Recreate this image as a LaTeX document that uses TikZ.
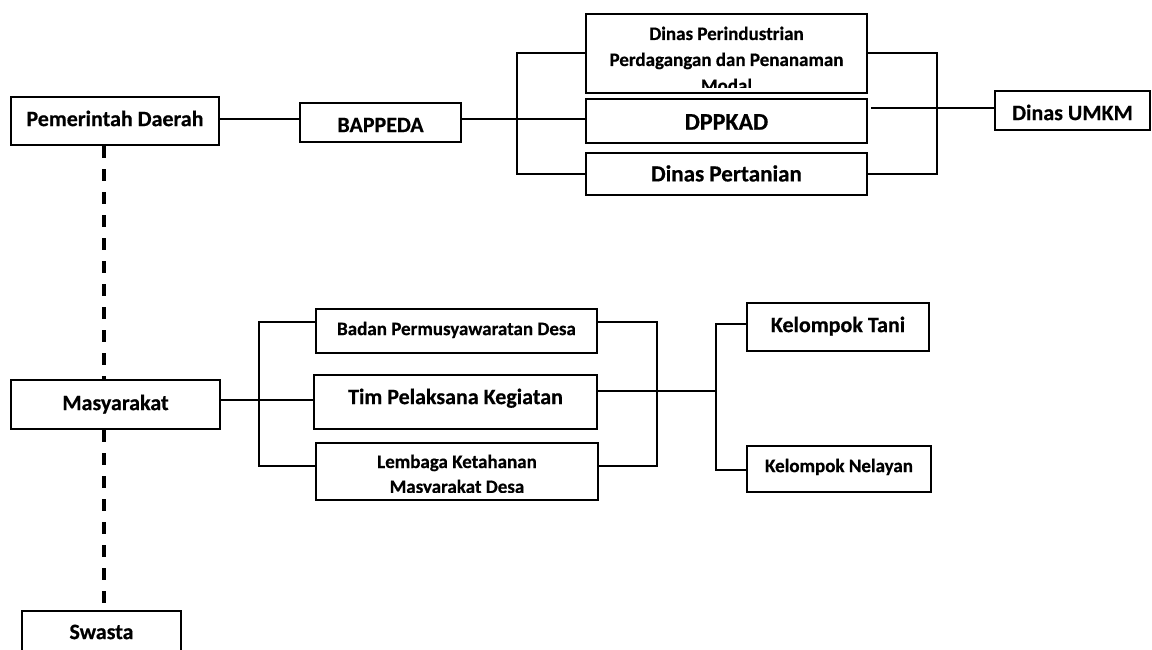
\documentclass[tikz,border=0pt]{standalone}
\usepackage{fontspec}
\setmainfont{Carlito}[BoldFeatures={FakeBold=0.5}]
\tikzset{
  box/.style={draw=black, line width=2.2pt, inner sep=0pt, fill=white},
  big/.style={font=\bfseries\fontsize{22}{26}\selectfont, text height=14.2pt, text depth=0pt},
  mid/.style={font=\bfseries\fontsize{23}{27}\selectfont, text height=14.8pt, text depth=0pt},
  small/.style={font=\bfseries\fontsize{19}{24}\selectfont, text height=12.2pt, text depth=0pt},
  linetext/.style={font=\bfseries\fontsize{19}{24}\selectfont, anchor=base, inner sep=0pt},
  link/.style={line width=2pt},
  dashlink/.style={line width=3.8pt, dash pattern=on 12pt off 11pt}
}
\begin{document}
\begin{tikzpicture}[x=1pt,y=-1pt]
\clip (0,0) rectangle (1152,650);
\fill[white] (0,0) rectangle (1152,650);

% upper group
\node[box,big,minimum width=208pt,minimum height=48pt,text depth=4pt] (pd) at (115,121) {Pemerintah Daerah};
\node[box,big,minimum width=161pt,minimum height=39pt,text height=19.2pt] (bap) at (380.5,122.5) {BAPPEDA};
\node[box,minimum width=281pt,minimum height=79pt] (dpi) at (726.5,53.5) {};
\begin{scope}
  \clip (587,15) rectangle (866,88);
  \node[linetext] (dpiA) at (726.5,40) {Dinas Perindustrian};
  \node[linetext] (dpiB) at (726.5,66) {Perdagangan dan Penanaman};
  \node[linetext] (dpiC) at (726.5,92) {Modal};
\end{scope}
\node[box,font=\bfseries\fontsize{24}{28}\selectfont,text height=17.5pt,text depth=0pt,minimum width=281pt,minimum height=44pt] (dpp) at (726.5,121) {DPPKAD};
\node[box,mid,minimum width=281pt,minimum height=42pt] (per) at (726.5,174) {Dinas Pertanian};
\node[box,big,minimum width=155pt,minimum height=39pt,text height=19.2pt] (umkm) at (1072.5,110.5) {Dinas UMKM};

% lower group
\node[box,big,minimum width=209pt,minimum height=49pt,text depth=3pt] (masy) at (115.5,404.5) {Masyarakat};
\node[box,small,minimum width=281pt,minimum height=44pt,text depth=4pt] (badan) at (456.5,331) {Badan Permusyawaratan Desa};
\node[box,big,minimum width=283pt,minimum height=54pt,text depth=10pt] (tim) at (455.5,402) {Tim Pelaksana Kegiatan};
\node[box,minimum width=282pt,minimum height=57pt] (lem) at (457,471.5) {};
\begin{scope}
  \clip (317,444) rectangle (597,492.8);
  \node[linetext] (lemA) at (457,468) {Lembaga Ketahanan};
  \node[linetext] (lemB) at (457,493) {Masyarakat Desa};
\end{scope}
\node[box,big,minimum width=182pt,minimum height=48pt,text depth=4pt] (tani) at (838,327) {Kelompok Tani};
\node[box,small,minimum width=184pt,minimum height=46pt,text depth=6pt] (nel) at (839,469) {Kelompok Nelayan};
\node[box,big,minimum width=159pt,minimum height=60pt,text depth=18pt] (swa) at (101.5,641) {Swasta};

% helper coordinates
\coordinate (yA) at (0,119);
\coordinate (xB) at (517,0);
\coordinate (xC) at (937,0);
\coordinate (yD) at (0,108);
\coordinate (yE) at (0,400);
\coordinate (xF) at (259,0);
\coordinate (yG) at (0,322);
\coordinate (yH) at (0,466);
\coordinate (xI) at (657,0);
\coordinate (yJ) at (0,391);
\coordinate (xK) at (716,0);
\coordinate (yL) at (0,324);
\coordinate (yM) at (0,470);
\coordinate (xN) at (104,0);

% upper connectors
\draw[link] (pd.east |- yA) -- (bap.west |- yA);
\draw[link] (bap.east |- yA) -- (dpp.west |- yA);
\draw[link] (dpi.west) -| (xB |- per.west) -- (per.west);
\draw[link] (dpi.east) -| (xC |- per.east) -- (per.east);
\draw[link] ([xshift=3pt]dpp.east |- yD) -- (umkm.west |- yD);

% lower connectors
\draw[link] (masy.east |- yE) -- (tim.west |- yE);
\draw[link] (badan.west |- yG) -| (xF |- yH) -- (lem.west |- yH);
\draw[link] (badan.east |- yG) -| (xI |- yH) -- (lem.east |- yH);
\draw[link] (tim.east |- yJ) -- (xK |- yJ);
\draw[link] (tani.west |- yL) -| (xK |- yM) -- (nel.west |- yM);

% dashed links
\draw[dashlink] (pd.south -| xN) -- (masy.north -| xN);
\draw[dashlink] (masy.south -| xN) -- (swa.north -| xN);
\end{tikzpicture}
\end{document}
